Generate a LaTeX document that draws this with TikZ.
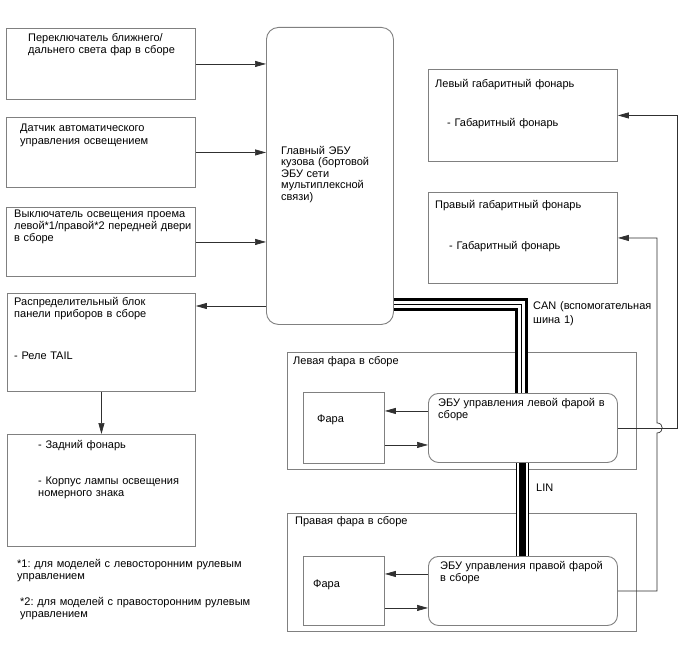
\documentclass[tikz,border=0pt]{standalone}
\usepackage{fontspec}
\setmainfont{Liberation Sans}
\usetikzlibrary{arrows.meta,calc}
\definecolor{boxgray}{HTML}{808080}
\definecolor{linegray}{HTML}{303030}
\begin{document}
\begin{tikzpicture}[x=1pt,y=-1pt,
  box/.style={draw=boxgray, line width=0.9pt, rectangle, inner sep=0pt, anchor=north west},
  rbox/.style={box, rounded corners=#1},
  txt/.style={anchor=base west, inner sep=0pt, align=left, text width=240pt, font=\fontsize{11}{12.4}\selectfont\frenchspacing},
  conn/.style={draw=linegray, line width=0.7pt},
  arr/.style={conn, -{Triangle[length=11pt,width=6pt]}},
  canbus/.style={draw=black, line width=12.7pt, line join=miter, postaction={draw=white, line width=7.3pt}, postaction={draw=black, line width=1.3pt}},
  linbus/.style={draw=black, line width=13.3pt, postaction={draw=white, line width=10.7pt}, postaction={draw=black, line width=6.7pt}}
]
\useasboundingbox[fill=white] (0,0) rectangle (688,658);

% boxes
\node[box, minimum width=189pt, minimum height=71pt] (b1) at (6,28) {};
\node[box, minimum width=189pt, minimum height=70pt] (b2) at (6,117) {};
\node[box, minimum width=189pt, minimum height=69pt] (b3) at (6,207) {};
\node[box, minimum width=188pt, minimum height=98pt] (b4) at (7,293) {};
\node[box, minimum width=188pt, minimum height=112pt] (b5) at (7,434) {};
\node[rbox=12pt, minimum width=127pt, minimum height=297pt] (ecu) at (266,27) {};
\node[box, minimum width=189pt, minimum height=92pt] (ll) at (428,69) {};
\node[box, minimum width=189pt, minimum height=91pt] (rl) at (428,192) {};
\node[box, minimum width=349pt, minimum height=117pt] (lf) at (287,352) {};
\node[box, minimum width=81pt, minimum height=71pt] (lfara) at (303,392) {};
\node[rbox=10pt, minimum width=189pt, minimum height=69pt] (lecu) at (428,393) {};
\node[box, minimum width=349pt, minimum height=118pt] (rf) at (287,513) {};
\node[box, minimum width=81pt, minimum height=69pt] (rfara) at (303,556) {};
\node[rbox=10pt, minimum width=189pt, minimum height=69pt] (recu) at (428,556) {};

% texts
\node[txt] (t1) at (28,41.3) {Переключатель ближнего/\\дальнего света фар в сборе};
\node[txt] (t2) at (20,131.7) {Датчик автоматического\\управления освещением};
\node[txt] (t3) at (14,217) {Выключатель освещения проема\\левой*1/правой*2 передней двери\\в сборе};
\node[txt, font=\fontsize{11}{11.6}\selectfont] (tecu) at (281,154) {Главный ЭБУ\\кузова (бортовой\\ЭБУ сети\\мультиплексной\\связи)};
\node[txt] (t4) at (14,305) {Распределительный блок\\панели приборов в сборе\\[29.2pt]- Реле TAIL};
\node[txt] (t5) at (38,448) {- Задний фонарь\\[23.6pt]- Корпус лампы освещения\\номерного знака};
\node[txt, font=\fontsize{11}{12}\selectfont\frenchspacing] (fn1) at (17,567.3) {*1: для моделей с левосторонним рулевым\\управлением};
\node[txt, font=\fontsize{11}{12}\selectfont\frenchspacing] (fn2) at (20,605) {*2: для моделей с правосторонним рулевым\\управлением};
\node[txt] (tll) at (435,87.3) {Левый габаритный фонарь};
\node[txt] (tll2) at (447,126.7) {- Габаритный фонарь};
\node[txt] (trl) at (435,208.3) {Правый габаритный фонарь};
\node[txt] (trl2) at (449,249.3) {- Габаритный фонарь};
\node[txt, font=\fontsize{11}{14.3}\selectfont] (tcan) at (533,309) {CAN (вспомогательная\\шина 1)};
\node[txt] (tlf) at (293,364) {Левая фара в сборе};
\node[txt] (tlfara) at (317,422.7) {Фара};
\node[txt] (tlecu) at (438,406) {ЭБУ управления левой фарой в\\сборе};
\node[txt] (trf) at (295,524) {Правая фара в сборе};
\node[txt] (trfara) at (313,587.7) {Фара};
\node[txt] (trecu) at (440,569.3) {ЭБУ управления правой фарой\\в сборе};
\node[txt] (tlin) at (536,491.7) {LIN};

% helper coordinates
\coordinate (y4) at (0,306);
\coordinate (canY) at (0,304.6);
\coordinate (canX) at (521.8,0);
\coordinate (linX) at (522.6,0);
\coordinate (lv) at (677,0);
\coordinate (rv) at (657,0);

% buses
\draw[canbus] (ecu.east |- canY) -- (canX |- canY) -- (canX |- lecu.north);
\draw[linbus] (linX |- lecu.south) -- (linX |- recu.north);

% connectors
\draw[arr] (b1.east) -- (ecu.west |- b1.east);
\draw[arr] (b2.east) -- (ecu.west |- b2.east);
\draw[arr] (b3.east) -- (ecu.west |- b3.east);
\draw[arr] (ecu.west |- y4) -- (b4.east |- y4);
\draw[arr] (b4.south) -- (b5.north);
\draw[arr] ([yshift=17pt]lecu.west) -- ([yshift=17pt]lfara.east);
\draw[arr] ([yshift=-17pt]lfara.east) -- ([yshift=-17pt]lecu.west);
\draw[arr] ([yshift=17pt]recu.west) -- ([yshift=17pt]rfara.east);
\draw[arr] ([yshift=-17pt]rfara.east) -- ([yshift=-17pt]recu.west);
\draw[arr] (lecu.east) -- (lecu.east -| lv) -- (lv |- ll.east) -- (ll.east);
\draw[arr] (recu.east) -- (recu.east -| rv) -- ($(rv |- lecu.east)+(0,5)$)
  .. controls +(7,0) and +(7,0) .. ($(rv |- lecu.east)+(0,-5)$)
  -- (rv |- rl.east) -- (rl.east);
\end{tikzpicture}
\end{document}
